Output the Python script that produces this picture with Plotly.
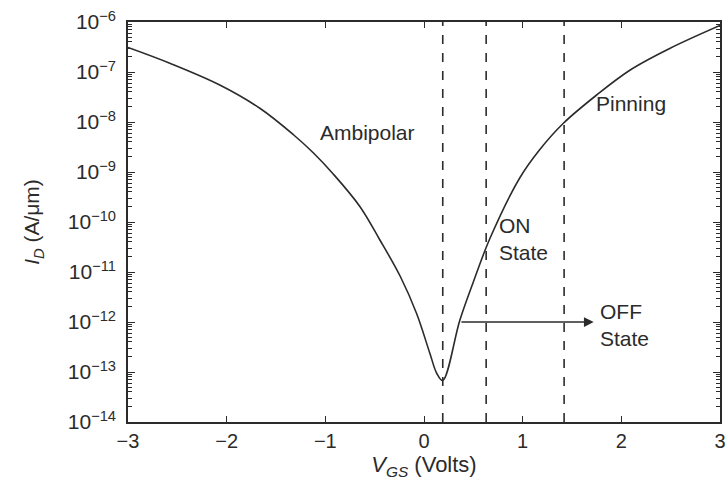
import plotly.graph_objects as go

# Drain current vs gate-source voltage (log scale)
vgs = [-3.0, -2.57, -2.07, -1.66, -1.32, -1.12, -0.92, -0.65, -0.45, -0.24, -0.075,
       0.06, 0.13, 0.19, 0.364, 0.50, 0.67, 0.97, 1.17, 1.41, 1.75, 2.09, 2.49, 3.0]
log_id = [-6.51, -6.83, -7.26, -7.73, -8.26, -8.62, -9.04, -9.69, -10.35, -11.09, -11.83,
          -12.63, -13.03, -13.17, -11.96, -11.20, -10.32, -9.12, -8.56, -8.03, -7.46, -6.96,
          -6.53, -6.07]
id_current = [10 ** v for v in log_id]

# Region boundaries (dashed verticals)
boundaries = [0.19, 0.63, 1.42]

# Off-state arrow: from the curve out to the label
off_arrow_start = 0.364
off_arrow_end = 1.72
off_level_exp = -12

x_ticks = [-3, -2, -1, 0, 1, 2, 3]
x_ticktext = ["\u22123", "\u22122", "\u22121", "0", "1", "2", "3"]
y_exps = [-14, -13, -12, -11, -10, -9, -8, -7, -6]
y_ticktext = ["10<sup>\u2212%d</sup>" % abs(e) for e in y_exps]

FONT = "Liberation Sans, Arial, Helvetica, sans-serif"
INK = "#2b2b2b"

fig = go.Figure()
fig.add_trace(go.Scatter(
    x=vgs, y=id_current, mode="lines",
    line=dict(color=INK, width=1.6, shape="spline", smoothing=1.0),
    showlegend=False, hoverinfo="skip",
))

for xb in boundaries:
    fig.add_shape(type="line", xref="x", yref="paper", x0=xb, x1=xb, y0=0, y1=1,
                  line=dict(color=INK, width=1.6, dash="dash"))

fig.add_annotation(x=off_arrow_end, y=off_level_exp, ax=off_arrow_start, ay=off_level_exp,
                   xref="x", yref="y", axref="x", ayref="y",
                   showarrow=True, arrowhead=2, arrowsize=1.3, arrowwidth=1.5,
                   arrowcolor=INK, text="")

labels = [
    ("Ambipolar", -1.075, -8.2),
    ("Pinning", 1.72, -7.62),
    ("ON<br>State", 0.74, -10.34),
    ("OFF<br>State", 1.76, -12.05),
]
for txt, lx, ly in labels:
    fig.add_annotation(x=lx, y=ly, xref="x", yref="y", text=txt, showarrow=False,
                       xanchor="left", yanchor="middle", align="left",
                       font=dict(family=FONT, size=21, color=INK))

axis_common = dict(
    showline=True, linecolor=INK, linewidth=1.5, mirror="allticks",
    ticks="inside", tickcolor=INK, showgrid=False, zeroline=False,
    automargin=False,
)

fig.update_xaxes(
    range=[-3, 3], tickvals=x_ticks, ticktext=x_ticktext, ticklen=6,
    tickfont=dict(family=FONT, size=20, color=INK),
    title=dict(text="<i>V</i><sub><i>GS</i></sub> (Volts)",
               font=dict(family=FONT, size=22, color=INK), standoff=6),
    **axis_common,
)
fig.update_yaxes(
    type="log", range=[-14, -6], tickvals=[10 ** e for e in y_exps],
    ticktext=y_ticktext, ticklen=7, ticklabelstandoff=6,
    tickfont=dict(family=FONT, size=21, color=INK),
    minor=dict(ticks="inside", ticklen=4, tickcolor=INK, dtick="D1", showgrid=False),
    title=dict(text="<i>I</i><sub><i>D</i></sub> (A/\u03bcm)",
               font=dict(family=FONT, size=21, color=INK), standoff=22),
    **axis_common,
)

fig.update_layout(
    width=728, height=480,
    margin=dict(l=128, r=8, t=22, b=58),
    paper_bgcolor="white", plot_bgcolor="white",
)

fig.write_html("out.html")
